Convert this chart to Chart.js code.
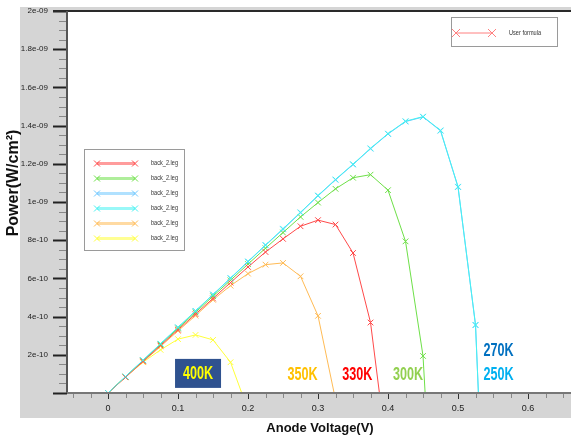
<!DOCTYPE html>
<html>
<head>
<meta charset="utf-8">
<script src="https://cdn.jsdelivr.net/npm/chart.js@4.4.1/dist/chart.umd.min.js"></script>
<style>
  html, body { margin: 0; padding: 0; background: #fff; }
  #wrap { width: 571px; height: 442px; }
</style>
</head>
<body>
<div id="wrap"><canvas id="powerChart" width="571" height="442"></canvas></div>
<script>
// Anode voltage (V) for each sample point
const voltage = [0, 0.025, 0.05, 0.075, 0.1, 0.125, 0.15, 0.175, 0.2, 0.225, 0.25, 0.275,
                 0.3, 0.325, 0.35, 0.375, 0.4, 0.425, 0.45, 0.475, 0.5, 0.525, 0.55];

// Power values in units of 1e-9 W/cm2 (last points fall below the axis and are clipped)
const power330K = [0, 0.083, 0.166, 0.249, 0.331, 0.413, 0.495, 0.578, 0.66, 0.738, 0.807, 0.873,
                   0.905, 0.882, 0.733, 0.369, -0.357];
const power300K = [0, 0.085, 0.17, 0.254, 0.338, 0.422, 0.507, 0.59, 0.675, 0.758, 0.84, 0.922,
                   0.997, 1.069, 1.127, 1.143, 1.062, 0.794, 0.194, -1.42];
const power270K = [0, 0.086, 0.171, 0.257, 0.343, 0.429, 0.515, 0.6, 0.687, 0.773, 0.857, 0.944,
                   1.032, 1.116, 1.196, 1.279, 1.356, 1.421, 1.445, 1.373, 1.078, 0.355, -1.8];
const power250K = [0, 0.086, 0.172, 0.258, 0.344, 0.43, 0.516, 0.602, 0.689, 0.775, 0.86, 0.946,
                   1.034, 1.118, 1.198, 1.281, 1.358, 1.423, 1.447, 1.375, 1.08, 0.357, -1.8];
const power350K = [0, 0.082, 0.163, 0.244, 0.325, 0.405, 0.488, 0.562, 0.625, 0.672, 0.681, 0.611,
                   0.404, -0.035];
const power400K = [0, 0.086, 0.161, 0.226, 0.282, 0.304, 0.278, 0.161, -0.09];

const seriesNames = ['330K', '300K', '270K', '250K', '350K', '400K'];
const seriesPower = [power330K, power300K, power270K, power250K, power350K, power400K];
const seriesColors = ['#ff4a4a', '#6ee048', '#70c8ff', '#45f2f2', '#ffbb55', '#ffff3a'];
const seriesOrder = [1, 1, 1, 0, 1, 1]; // 250K (cyan) drawn on top of 270K
const legendLabels = ['back_2.leg', 'back_2.leg', 'back_2.leg', 'back_2.leg', 'back_2.leg', 'back_2.leg'];

// temperature labels placed in data coordinates (V, 1e-9 W/cm2)
const tempLabels = [
    { text: '400K', x: 0.1286, y: 0.10, color: '#ffff00', box: '#2f528f' },
    { text: '350K', x: 0.278, y: 0.094, color: '#ffc000' },
    { text: '330K', x: 0.356, y: 0.094, color: '#ff0000' },
    { text: '300K', x: 0.4286, y: 0.094, color: '#92d050' },
    { text: '270K', x: 0.558, y: 0.222, color: '#0070c0' },
    { text: '250K', x: 0.558, y: 0.094, color: '#00b0f0' }
];

const FONT = "'Liberation Sans', Arial, sans-serif";

// format 1.8 -> "1.8e-09", 0.8 -> "8e-10"
function sciLabel(v) {
    if (Math.abs(v) < 1e-6) return '';
    const val = v * 1e-9;
    const exp = Math.floor(Math.log10(val) + 1e-9);
    const mant = Math.round(val / Math.pow(10, exp) * 10) / 10;
    return mant + 'e-' + String(-exp).padStart(2, '0');
}

function drawCross(ctx, x, y, r, color) {
    ctx.save();
    ctx.strokeStyle = color;
    ctx.lineWidth = 1;
    ctx.beginPath();
    ctx.moveTo(x - r, y - r); ctx.lineTo(x + r, y + r);
    ctx.moveTo(x - r, y + r); ctx.lineTo(x + r, y - r);
    ctx.stroke();
    ctx.restore();
}

// narrow text: draw with horizontal squeeze
function drawText(ctx, text, x, y, font, color, align, sx) {
    ctx.save();
    ctx.font = font;
    ctx.fillStyle = color;
    ctx.textBaseline = 'middle';
    ctx.translate(x, y);
    ctx.scale(sx, 1);
    ctx.textAlign = align;
    ctx.fillText(text, 0, 0);
    ctx.restore();
}

function hexAlpha(hex, a) {
    const n = parseInt(hex.slice(1), 16);
    return 'rgba(' + (n >> 16) + ',' + ((n >> 8) & 255) + ',' + (n & 255) + ',' + a + ')';
}

// keep the plot box fixed: no automatic label padding
function fixBox(size, horizontal) {
    return s => {
        if (horizontal) s.height = size; else s.width = size;
        s.paddingTop = s.paddingBottom = s.paddingLeft = s.paddingRight = 0;
    };
}

const framePlugin = {
    id: 'frame',
    beforeDraw(chart) {
        const { ctx, chartArea: a } = chart;
        ctx.save();
        ctx.fillStyle = '#d5d5d5';
        ctx.fillRect(20, 7, 551, 411);
        ctx.fillStyle = '#ffffff';
        ctx.fillRect(a.left, a.top, a.right - a.left, a.bottom - a.top);
        ctx.restore();
    },
    afterDraw(chart) {
        const { ctx, chartArea: a } = chart;
        const xs = chart.scales.x, ys = chart.scales.y;
        ctx.save();

        // y ticks: minor every 0.05, major every 0.2
        for (let i = 0; i <= 40; i++) {
            const py = Math.round(ys.getPixelForValue(i * 0.05)) + 0.5;
            const major = i % 4 === 0;
            ctx.strokeStyle = major ? '#222' : '#888';
            ctx.lineWidth = major ? 2 : 1;
            ctx.beginPath();
            ctx.moveTo(a.left - (major ? 14 : 8), py);
            ctx.lineTo(a.left, py);
            ctx.stroke();
        }
        // x ticks: every 0.025
        for (let i = -2; i <= 26; i++) {
            const px = Math.round(xs.getPixelForValue(i * 0.025)) + 0.5;
            const major = i % 4 === 0;
            ctx.strokeStyle = major ? '#333' : '#888';
            ctx.lineWidth = 1;
            ctx.beginPath();
            ctx.moveTo(px, a.bottom);
            ctx.lineTo(px, a.bottom + (major ? 6 : 5));
            ctx.stroke();
        }

        // frame lines
        ctx.strokeStyle = '#2a2a2a';
        ctx.lineWidth = 2;
        ctx.beginPath(); ctx.moveTo(a.left - 14, a.top); ctx.lineTo(a.right, a.top); ctx.stroke();
        ctx.strokeStyle = '#555';
        ctx.beginPath(); ctx.moveTo(a.left, a.top); ctx.lineTo(a.left, a.bottom); ctx.stroke();
        ctx.strokeStyle = '#777';
        ctx.beginPath(); ctx.moveTo(a.left, a.bottom); ctx.lineTo(a.right, a.bottom); ctx.stroke();

        // series legend box
        ctx.fillStyle = '#fff';
        ctx.fillRect(84, 149, 100, 101);
        ctx.strokeStyle = '#9a9a9a';
        ctx.lineWidth = 1;
        ctx.strokeRect(84.5, 149.5, 100, 101);
        legendLabels.forEach((lab, i) => {
            const ly = 163.5 + i * 15;
            ctx.strokeStyle = hexAlpha(seriesColors[i], 0.55);
            ctx.lineWidth = 3;
            ctx.beginPath(); ctx.moveTo(97, ly); ctx.lineTo(135, ly); ctx.stroke();
            drawCross(ctx, 97, ly, 3, seriesColors[i]);
            drawCross(ctx, 135, ly, 3, seriesColors[i]);
            drawText(ctx, lab, 151, ly, '7px ' + FONT, '#333', 'left', 0.8);
        });

        // formula legend box
        ctx.fillStyle = '#fff';
        ctx.fillRect(451, 17, 106, 29);
        ctx.strokeStyle = '#9a9a9a';
        ctx.lineWidth = 1;
        ctx.strokeRect(451.5, 17.5, 106, 29);
        ctx.strokeStyle = '#ff8080';
        ctx.beginPath(); ctx.moveTo(456, 33); ctx.lineTo(492, 33); ctx.stroke();
        drawCross(ctx, 456, 33, 4, '#ff8080');
        drawCross(ctx, 492, 33, 4, '#ff8080');
        drawText(ctx, 'User formula', 509, 33, '7px ' + FONT, '#333', 'left', 0.8);

        // temperature labels
        tempLabels.forEach(t => {
            const px = xs.getPixelForValue(t.x), py = ys.getPixelForValue(t.y);
            if (t.box) {
                ctx.fillStyle = t.box;
                ctx.fillRect(px - 23, py - 15, 46, 29);
            }
            drawText(ctx, t.text, px, py, 'bold 18px ' + FONT, t.color, 'center', 0.7);
        });

        // axis titles
        ctx.fillStyle = '#111';
        ctx.font = 'bold 13px ' + FONT;
        ctx.textAlign = 'center';
        ctx.textBaseline = 'middle';
        ctx.fillText('Anode Voltage(V)', 320, 428);
        ctx.translate(14, 183);
        ctx.rotate(-Math.PI / 2);
        ctx.font = 'bold 16px ' + FONT;
        ctx.fillText('Power(W/cm\u00b2)', 0, 0);
        ctx.restore();
    }
};

new Chart(document.getElementById('powerChart'), {
    type: 'line',
    data: {
        datasets: seriesNames.map((name, i) => ({
            label: name,
            data: seriesPower[i].map((p, k) => ({ x: voltage[k], y: p })),
            order: seriesOrder[i],
            borderColor: seriesColors[i],
            backgroundColor: seriesColors[i],
            borderWidth: 1,
            pointStyle: 'crossRot',
            pointRadius: 4,
            pointBorderWidth: 1,
            tension: 0,
            fill: false
        }))
    },
    options: {
        responsive: false,
        animation: false,
        events: [],
        layout: { autoPadding: false, padding: { top: 11, right: 0, left: 0, bottom: 0 } },
        plugins: { legend: { display: false }, tooltip: { enabled: false } },
        scales: {
            x: {
                type: 'linear',
                min: -0.0586,
                max: 0.6614,
                afterFit: fixBox(49, true),
                grid: { display: false, drawTicks: false },
                border: { display: false },
                ticks: {
                    stepSize: 0.1,
                    includeBounds: false,
                    autoSkip: false,
                    maxRotation: 0,
                    padding: 10,
                    color: '#222',
                    font: { size: 9, family: FONT },
                    callback: v => {
                        const r = Math.round(v * 10);
                        return r === 0 ? '0' : String(r / 10);
                    }
                }
            },
            y: {
                min: 0,
                max: 2,
                afterFit: fixBox(67, false),
                grid: { display: false, drawTicks: false },
                border: { display: false },
                ticks: {
                    stepSize: 0.2,
                    autoSkip: false,
                    padding: 19,
                    color: '#222',
                    font: { size: 8, family: FONT },
                    callback: v => sciLabel(v)
                }
            }
        }
    },
    plugins: [framePlugin]
});
</script>
</body>
</html>
